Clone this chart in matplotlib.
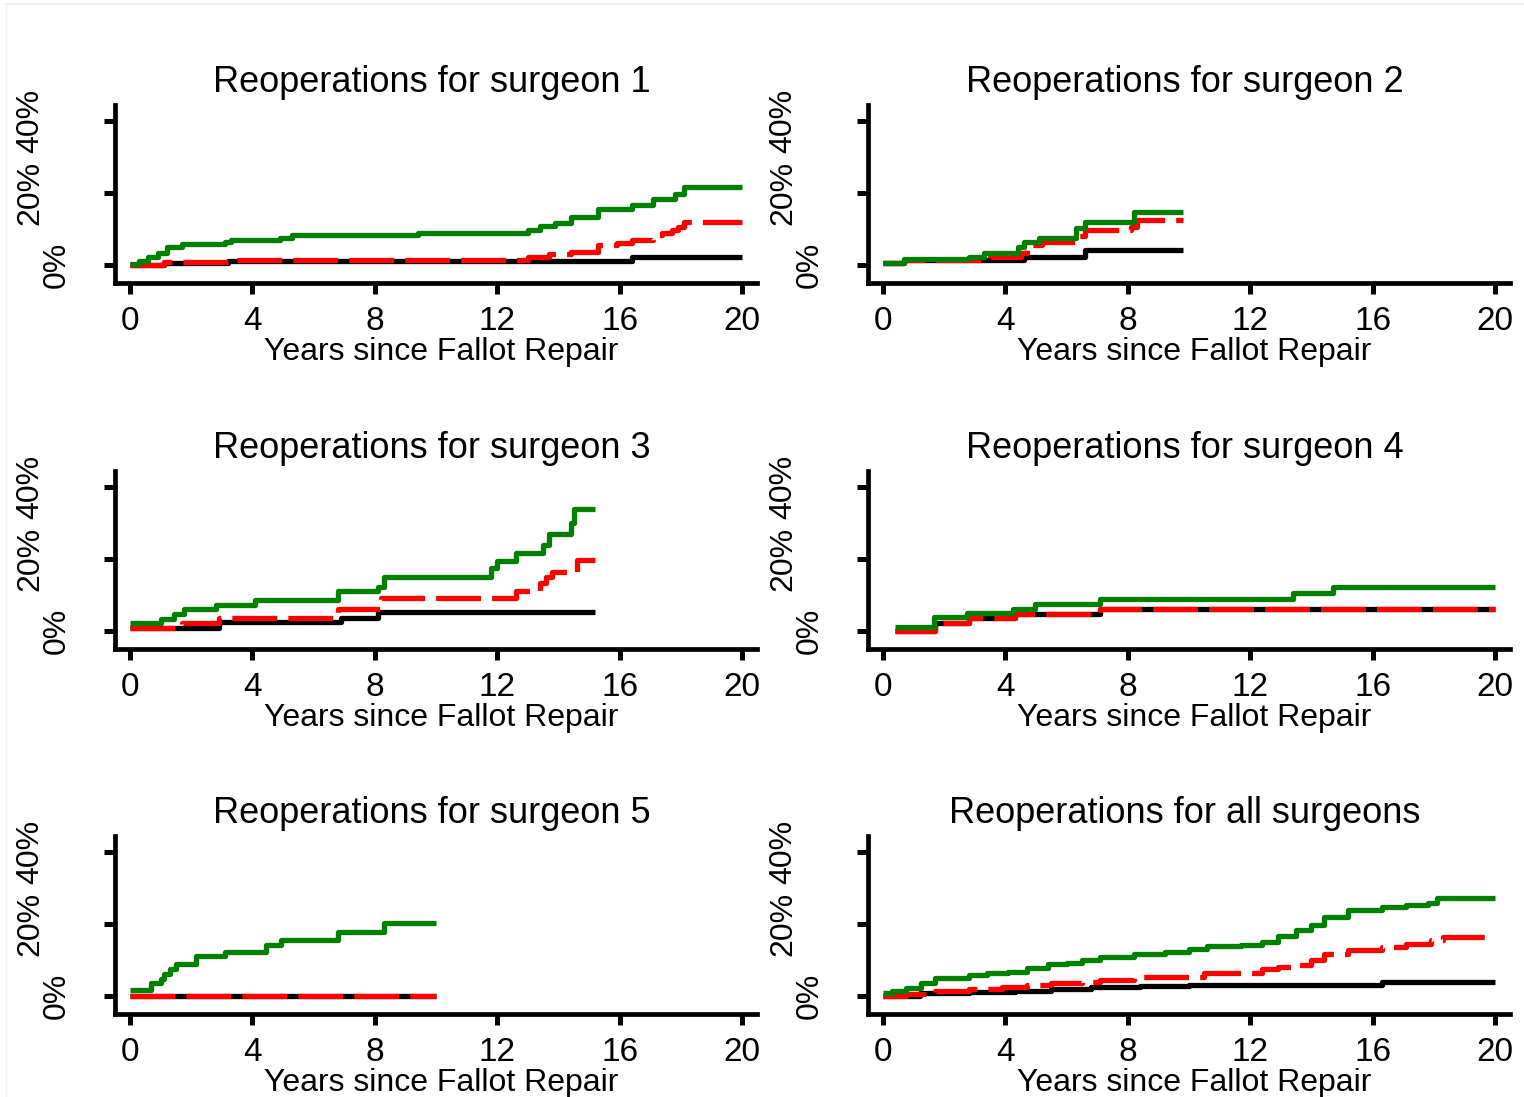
import matplotlib
matplotlib.use("Agg")
import matplotlib.pyplot as plt
import matplotlib.transforms as mtransforms
from matplotlib.lines import Line2D

plt.rcParams['font.family'] = ['Liberation Sans', 'DejaVu Sans']

# cumulative reoperation %
# surgeon 1
s1_green_t = [0, 0.3, 0.6, 0.9, 1.2, 1.7, 3.1, 3.3, 4.9, 5.3, 9.4, 13.0, 13.4, 13.9, 14.4, 15.3, 16.4, 17.1, 17.8, 18.1, 20.0]
s1_green_y = [0.3, 1.2, 2.2, 3.3, 5.1, 5.8, 6.5, 6.9, 7.4, 8.3, 8.8, 9.6, 10.7, 11.8, 13.4, 15.5, 16.7, 18.2, 19.8, 21.6, 21.6]
s1_red_t = [0, 1.1, 3.2, 13.0, 13.7, 14.4, 15.3, 15.9, 16.4, 17.1, 17.4, 17.7, 17.9, 18.1, 20.0]
s1_red_y = [0, 0.9, 1.5, 2.3, 3.0, 3.7, 5.6, 6.0, 6.9, 8.3, 8.8, 9.7, 10.6, 11.9, 11.9]
s1_black_t = [0, 1.1, 3.2, 16.4, 20.0]
s1_black_y = [0, 0.6, 1.1, 2.3, 2.3]

# surgeon 2
s2_green_t = [0, 0.7, 2.8, 3.3, 4.4, 4.6, 5.1, 6.3, 6.6, 8.2, 9.8]
s2_green_y = [0.6, 1.6, 2.3, 3.4, 5.1, 6.5, 7.6, 10.2, 11.9, 14.6, 14.6]
s2_red_t = [0, 0.7, 3.5, 4.5, 4.7, 5.2, 6.3, 6.6, 8.1, 8.3, 9.8]
s2_red_y = [0.6, 1.4, 2.1, 3.4, 5.5, 6.5, 8.1, 9.7, 10.6, 12.5, 12.5]
s2_black_t = [0, 0.7, 4.6, 6.6, 9.8]
s2_black_y = [0.6, 1.4, 2.3, 4.1, 4.1]

# surgeon 3
s3_green_t = [0, 1.0, 1.45, 1.75, 2.8, 4.1, 6.8, 8.1, 8.3, 11.8, 12.0, 12.6, 13.5, 13.7, 14.4, 14.5, 15.2]
s3_green_y = [2.1, 3.3, 4.7, 6.1, 7.3, 8.5, 11.0, 12.3, 15.1, 17.4, 19.4, 21.6, 23.9, 26.9, 30.0, 33.8, 33.8]
s3_red_t = [0, 1.7, 2.9, 6.8, 8.2, 12.6, 13.4, 13.6, 13.8, 14.6, 15.2]
s3_red_y = [0.7, 2.3, 3.7, 6.0, 9.1, 11.1, 13.4, 15.1, 16.5, 19.7, 19.7]
s3_black_t = [0, 2.9, 6.9, 8.1, 15.2]
s3_black_y = [0.9, 2.4, 3.7, 5.2, 5.2]

# surgeon 4
s4_green_t = [0.4, 1.67, 2.74, 4.24, 4.96, 7.1, 13.4, 14.7, 20.0]
s4_green_y = [1.2, 4.0, 4.9, 6.1, 7.5, 8.9, 10.5, 12.2, 12.2]
s4_red_t = [0.4, 1.7, 2.8, 4.3, 7.1, 20.0]
s4_red_y = [0.0, 2.3, 3.5, 4.7, 6.1, 6.1]
s4_black_t = [0.4, 1.7, 2.8, 4.3, 7.1, 20.0]
s4_black_y = [0.0, 2.3, 3.5, 4.7, 6.1, 6.1]

# surgeon 5
s5_green_t = [0, 0.7, 1.0, 1.1, 1.3, 1.5, 2.15, 3.1, 4.45, 4.95, 6.8, 8.3, 10.0]
s5_green_y = [1.7, 3.5, 4.8, 6.0, 7.4, 8.8, 11.1, 12.3, 14.1, 15.5, 17.8, 20.4, 20.4]
s5_red_t = [0, 10.0]
s5_red_y = [0, 0]
s5_black_t = [0, 10.0]
s5_black_y = [0, 0]

# all surgeons
all_green_t = [0, 0.3, 0.75, 1.23, 1.7, 2.8, 3.4, 4.1, 4.7, 5.4, 6.0, 6.5, 7.1, 8.2, 9.2, 10.0, 10.6,
               11.7, 12.4, 12.9, 13.5, 14.0, 14.4, 15.2, 16.3, 17.1, 17.8, 18.1, 20.0]
all_green_y = [0.7, 1.3, 2.1, 3.7, 4.9, 5.8, 6.5, 6.7, 7.7, 8.9, 9.1, 10.0, 10.7, 11.7, 12.2, 13.0, 14.0,
               14.2, 15.1, 16.7, 18.3, 19.7, 22.0, 23.9, 24.6, 25.3, 25.8, 27.3, 27.3]
all_red_t = [0, 0.75, 1.7, 2.8, 3.9, 4.7, 5.5, 6.5, 7.1, 8.2, 9.5, 10.5, 12.4, 12.9, 13.5, 14.0, 14.4,
             15.2, 16.3, 17.1, 17.9, 18.3, 20.0]
all_red_y = [0, 0.6, 1.5, 1.9, 2.4, 3.1, 3.5, 4.0, 4.4, 5.2, 5.4, 6.5, 7.4, 8.1, 8.6, 10.0, 11.7,
             12.8, 13.7, 14.4, 15.6, 16.3, 16.3]
all_black_t = [0, 1.2, 2.8, 4.3, 5.5, 6.8, 8.4, 10.0, 16.3, 20.0]
all_black_y = [0, 0.7, 1.2, 1.5, 1.9, 2.4, 2.8, 3.1, 3.8, 3.8]

titles = ["Reoperations for surgeon 1", "Reoperations for surgeon 2",
          "Reoperations for surgeon 3", "Reoperations for surgeon 4",
          "Reoperations for surgeon 5", "Reoperations for all surgeons"]
panels = [
    (s1_black_t, s1_black_y, s1_red_t, s1_red_y, s1_green_t, s1_green_y),
    (s2_black_t, s2_black_y, s2_red_t, s2_red_y, s2_green_t, s2_green_y),
    (s3_black_t, s3_black_y, s3_red_t, s3_red_y, s3_green_t, s3_green_y),
    (s4_black_t, s4_black_y, s4_red_t, s4_red_y, s4_green_t, s4_green_y),
    (s5_black_t, s5_black_y, s5_red_t, s5_red_y, s5_green_t, s5_green_y),
    (all_black_t, all_black_y, all_red_t, all_red_y, all_green_t, all_green_y),
]
x_ticks = [0, 4, 8, 12, 16, 20]
y_ticks = [0, 20, 40]
y_labels = ["0%", "20%", "40%"]

W, H = 1524, 1097
fig = plt.figure(figsize=(W / 100, H / 100), dpi=100)
# faint frame at the top and left edge of the image
fig.lines.append(Line2D([6 / W, 1], [1 - 4 / H, 1 - 4 / H], transform=fig.transFigure,
                        color='#e6edf2', lw=1.2))
fig.lines.append(Line2D([6 / W, 6 / W], [0, 1 - 4 / H], transform=fig.transFigure,
                        color='#eef2f5', lw=1.0))

col_left = [114.7, 867.7]
row_bottom = [283, 649, 1014]
ax_w, ax_h = 642.6, 178.2

for i, (bt, by, rt, ry, gt, gy) in enumerate(panels):
    r, c = divmod(i, 2)
    ax = fig.add_axes([col_left[c] / W, 1 - row_bottom[r] / H, ax_w / W, ax_h / H])
    ax.plot(bt, by, color='black', lw=3.8, drawstyle='steps-post', solid_capstyle='butt')
    ax.plot(rt, ry, color='#ff0000', lw=3.8, drawstyle='steps-post', linestyle=(0, (8.5, 2.1)))
    ax.plot(gt, gy, color='#008000', lw=3.8, drawstyle='steps-post', solid_capstyle='butt')

    ax.set_xlim(-0.5, 20.5)
    ax.set_ylim(-5, 44.5)
    for s in ['top', 'right']:
        ax.spines[s].set_visible(False)
    for s in ['left', 'bottom']:
        ax.spines[s].set_linewidth(3.4)
        ax.spines[s].set_capstyle('projecting')

    ax.set_xticks(x_ticks)
    ax.set_xticklabels([str(v) for v in x_ticks], fontsize=24)
    ax.set_yticks(y_ticks)
    ax.set_yticklabels(y_labels, fontsize=23, rotation=90, va='center')
    ax.tick_params(axis='both', direction='out', length=8, width=3.6)
    ax.tick_params(axis='x', pad=8.5)
    ax.tick_params(axis='y', pad=42)
    lab0 = ax.get_yticklabels()[0]
    lab0.set_transform(lab0.get_transform() +
                       mtransforms.ScaledTranslation(26 / 100, 0, fig.dpi_scale_trans))

    ax.set_xlabel("Years since Fallot Repair", fontsize=23, labelpad=0, x=0.508)
    ax.set_title(titles[i], fontsize=26, pad=9, x=0.494)

fig.savefig("out.png", dpi=100, facecolor='white')
